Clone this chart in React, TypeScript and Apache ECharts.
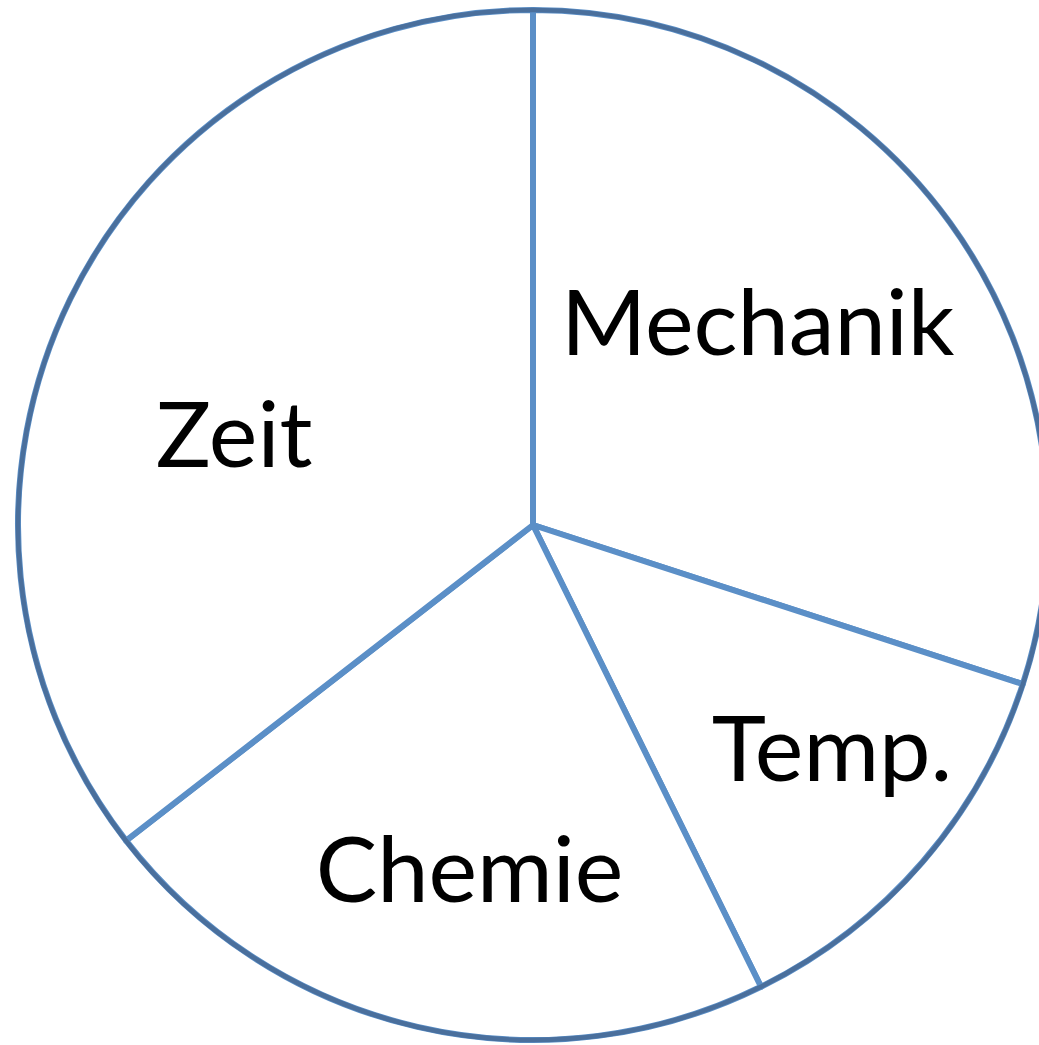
import React, { useEffect, useRef } from "react";
import * as echarts from "echarts";

const categories = ["Mechanik", "Temp.", "Chemie", "Zeit"];
const values = [30, 12.7, 21.8, 35.5];
const labelShift = [
  [14, -52],
  [102, 50],
  [-5, 88],
  [-65, 21],
];

export default function App() {
  const ref = useRef<HTMLDivElement>(null);
  useEffect(() => {
    const chart = echarts.init(ref.current!, null, { renderer: "svg" });
    chart.setOption({
      animation: false,
      backgroundColor: "#ffffff",
      series: [
        {
          type: "pie",
          center: [533, 525],
          radius: [0, 515],
          startAngle: 90,
          clockwise: true,
          silent: true,
          avoidLabelOverlap: false,
          itemStyle: { color: "#ffffff", borderColor: "#5b8fc7", borderWidth: 6 },
          label: {
            show: true,
            position: "inside",
            color: "#000000",
            fontFamily: "Lato",
            fontSize: 92,
            formatter: "{b}",
          },
          labelLine: { show: false },
          labelLayout: (p: any) => {
            const s = labelShift[p.dataIndex];
            return { dx: s[0], dy: s[1] };
          },
          emphasis: { disabled: true },
          data: categories.map((c, i) => ({ name: c, value: values[i] })),
        },
        {
          type: "pie",
          center: [533, 525],
          radius: [0, 515],
          silent: true,
          label: { show: false },
          labelLine: { show: false },
          itemStyle: { color: "none", borderColor: "#4a6f9c", borderWidth: 4.5 },
          emphasis: { disabled: true },
          data: [{ name: "outline", value: 1 }],
        },
      ],
    });
    return () => chart.dispose();
  }, []);
  return (
    <div
      ref={ref}
      style={{ position: "absolute", left: 0, top: 0, width: 1039, height: 1045 }}
    />
  );
}
